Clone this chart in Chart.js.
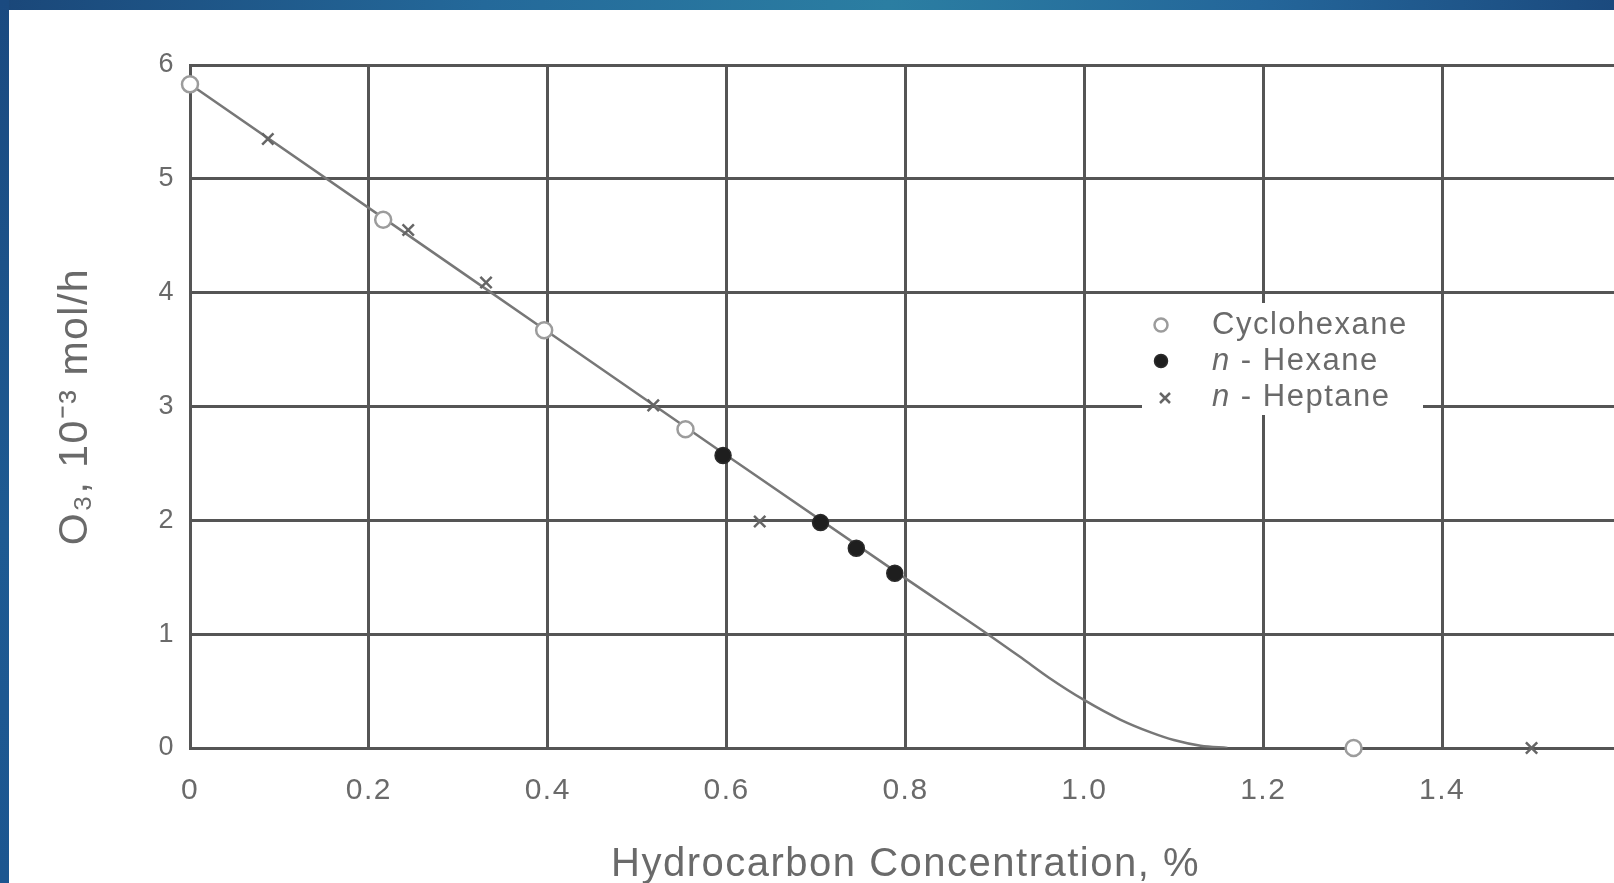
<!DOCTYPE html>
<html><head><meta charset="utf-8">
<script src="https://cdn.jsdelivr.net/npm/chart.js@4.4.1/dist/chart.umd.min.js"></script>
<style>
html,body{margin:0;padding:0;width:1614px;height:883px;overflow:hidden;background:#fff;}
#topband{position:absolute;left:0;top:0;width:1614px;height:10px;background:linear-gradient(to right,#1a4779 0%,#24699a 30%,#2b7ea2 55%,#24669a 78%,#1b4a7e 100%);z-index:2}
#leftband{position:absolute;left:0;top:0;width:9px;height:883px;background:linear-gradient(to bottom,#1a4a80,#1e5a92 60%,#1c5690);z-index:3}
#wrap{position:absolute;left:0;top:0;width:1640px;height:883px}
#c{display:block;width:1640px;height:883px}
</style></head><body>
<div id="topband"></div><div id="leftband"></div>
<div id="wrap"><canvas id="c" width="1640" height="883" style="width:1640px;height:883px"></canvas></div>
<script>
// ---- data ----
const xTickValues = [0, 0.2, 0.4, 0.6, 0.8, 1.0, 1.2, 1.4, 1.6];
const xTickLabels = ['0', '0.2', '0.4', '0.6', '0.8', '1.0', '1.2', '1.4', ''];
const yTickValues = [0, 1, 2, 3, 4, 5, 6];
const yTickLabels = ['0', '1', '2', '3', '4', '5', '6'];

const cyclohexaneX = [0, 0.216, 0.396, 0.554, 1.301];
const cyclohexaneY = [5.83, 4.64, 3.67, 2.80, 0];
const hexaneX = [0.596, 0.705, 0.745, 0.788];
const hexaneY = [2.57, 1.98, 1.755, 1.535];
const heptaneX = [0.087, 0.244, 0.331, 0.518, 0.637, 1.50];
const heptaneY = [5.35, 4.55, 4.09, 3.01, 1.99, 0];
const curveX = [0, 0.3, 0.6, 0.8, 0.892, 0.93, 0.96, 1.0, 1.04, 1.075, 1.10, 1.13, 1.16];
const curveY = [5.83, 4.2, 2.57, 1.49, 1.0, 0.79, 0.62, 0.42, 0.25, 0.135, 0.07, 0.02, 0];

const legendRows = [
  [['Cyclohexane', false]],
  [['n', true], [' - Hexane', false]],
  [['n', true], [' - Heptane', false]]
];
const xTitle = 'Hydrocarbon Concentration, %';
const yTitle = 'O\u2083, 10\u207B\u00B3 mol/h';

const pts = (xs, ys) => xs.map((x, i) => ({x: x, y: ys[i]}));

const TEXT = '#6a6a6a';
const GRID = '#555555';
const FONT = "'Liberation Sans', Arial, Helvetica, sans-serif";
const SPACING = '1.5px';

const spacingPlugin = {
  id: 'spacing',
  beforeLayout(chart) { chart.ctx.letterSpacing = SPACING; },
  beforeDraw(chart) { chart.ctx.letterSpacing = SPACING; }
};

const legendPlugin = {
  id: 'inlegend',
  afterDatasetsDraw(chart) {
    const ctx = chart.ctx;
    ctx.save();
    ctx.fillStyle = '#ffffff';
    ctx.fillRect(1142, 303, 281, 112);
    const rowsY = [325, 361, 397];
    const ds = [chart.data.datasets[1], chart.data.datasets[2], chart.data.datasets[3]];
    ds.forEach((d, i) => {
      ctx.fillStyle = d.backgroundColor;
      ctx.strokeStyle = d.borderColor;
      ctx.lineWidth = d.borderWidth;
      ctx.beginPath();
      if (d.pointStyle === 'circle') {
        ctx.arc(1161, rowsY[i], 6.5, 0, Math.PI * 2);
        ctx.fill(); ctx.stroke();
      } else {
        const r = 5, cx = 1165, cy = rowsY[i] + 1;
        ctx.moveTo(cx - r, cy - r); ctx.lineTo(cx + r, cy + r);
        ctx.moveTo(cx + r, cy - r); ctx.lineTo(cx - r, cy + r);
        ctx.stroke();
      }
      let tx = 1212;
      ctx.fillStyle = TEXT;
      ctx.textBaseline = 'middle';
      ctx.textAlign = 'left';
      legendRows[i].forEach(([t, it]) => {
        ctx.font = (it ? 'italic ' : '') + '31px ' + FONT;
        ctx.fillText(t, tx, rowsY[i]);
        tx += ctx.measureText(t).width;
      });
    });
    ctx.restore();
  }
};

new Chart(document.getElementById('c'), {
  type: 'scatter',
  data: {
    datasets: [
      {label: 'curve', data: pts(curveX, curveY), showLine: true, pointRadius: 0,
       borderColor: '#777777', borderWidth: 2.5, cubicInterpolationMode: 'monotone', order: 10},
      {label: 'Cyclohexane', data: pts(cyclohexaneX, cyclohexaneY), pointStyle: 'circle', pointRadius: 8,
       backgroundColor: '#ffffff', borderColor: '#9c9c9c', borderWidth: 2.5, order: 1, clip: false},
      {label: 'n - Hexane', data: pts(hexaneX, hexaneY), pointStyle: 'circle', pointRadius: 8,
       backgroundColor: '#1e1e1e', borderColor: '#2a2a2a', borderWidth: 1.5, order: 1, clip: false},
      {label: 'n - Heptane', data: pts(heptaneX, heptaneY), pointStyle: 'crossRot', pointRadius: 8,
       backgroundColor: '#666666', borderColor: '#666666', borderWidth: 2.5, order: 1, clip: false}
    ]
  },
  options: {
    responsive: false,
    animation: false,
    events: [],
    layout: {padding: {top: 65, right: 19, left: 0, bottom: 0}},
    plugins: {legend: {display: false}, tooltip: {enabled: false}},
    scales: {
      x: {
        type: 'linear', min: 0, max: 1.6,
        afterBuildTicks: s => { s.ticks = xTickValues.map(v => ({value: v})); },
        afterFit: s => { s.height = 135; s.paddingRight = 0; s.paddingLeft = 0; },
        ticks: {callback: (v, i) => xTickLabels[i], color: TEXT, padding: 25, maxRotation: 0,
                font: {family: FONT, size: 30}},
        grid: {color: GRID, lineWidth: 3, drawTicks: false},
        border: {color: GRID, width: 3},
        title: {display: true, text: xTitle, color: TEXT, font: {family: FONT, size: 40, lineHeight: 0.9},
                padding: {top: 0, bottom: 0}}
      },
      y: {
        type: 'linear', min: 0, max: 6,
        afterBuildTicks: s => { s.ticks = yTickValues.map(v => ({value: v})); },
        afterFit: s => { s.width = 190; },
        ticks: {callback: (v, i) => yTickLabels[i], color: TEXT, padding: 15,
                font: {family: FONT, size: 27}},
        grid: {color: GRID, lineWidth: 3, drawTicks: false},
        border: {color: GRID, width: 3},
        title: {display: true, text: yTitle, color: TEXT, font: {family: FONT, size: 41, lineHeight: 1},
                padding: {top: 55, bottom: 0}}
      }
    }
  },
  plugins: [spacingPlugin, legendPlugin]
});
</script>
</body></html>
